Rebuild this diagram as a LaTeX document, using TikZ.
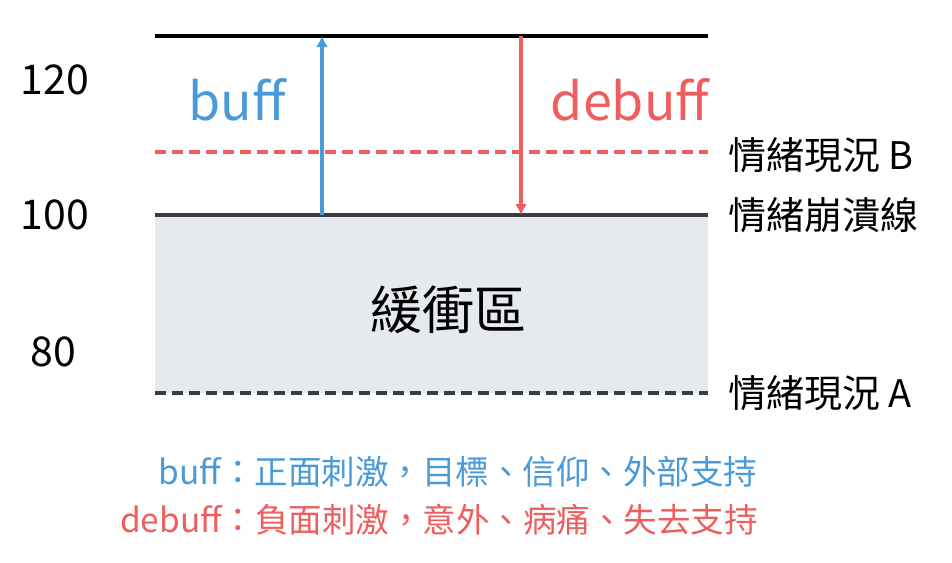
\documentclass[tikz,border=0pt]{standalone}
\usepackage{fontspec}
\usetikzlibrary{arrows.meta}
\setmainfont{Noto Sans CJK TC}
\definecolor{bl}{HTML}{4A9AD8}
\definecolor{rd}{HTML}{EE5E5E}
\definecolor{dk}{HTML}{3A3D40}
\definecolor{bz}{HTML}{E6EAEE}
\begin{document}
\begin{tikzpicture}[x=1pt,y=-1pt,
  lab/.style={anchor=west,inner sep=0pt,font=\fontsize{38}{38}\selectfont},
  num/.style={inner sep=0pt,font=\fontsize{41}{41}\selectfont},
  big/.style={inner sep=0pt,font=\fontsize{52}{52}\selectfont},
  foot/.style={inner sep=0pt,font=\fontsize{33.5}{33.5}\selectfont}]
\useasboundingbox (0,0) rectangle (952,562);
\fill[bz] (155,215) rectangle (708,393);
\coordinate (tl) at (155,36); \coordinate (tr) at (708,36);
\draw[line width=3.5pt] (tl) -- (tr);
\coordinate (bl1) at (155,152); \coordinate (br1) at (708,152);
\draw[rd,line width=3.5pt,dash pattern=on 11pt off 6pt] (bl1) -- (br1);
\coordinate (ml) at (155,215); \coordinate (mr) at (708,215);
\draw[dk,line width=3.5pt] (ml) -- (mr);
\coordinate (al) at (155,393); \coordinate (ar) at (708,393);
\draw[dk,line width=3.5pt,dash pattern=on 11pt off 6pt] (al) -- (ar);
\coordinate (b0) at (322,215); \coordinate (b1) at (322,36);
\draw[bl,line width=4pt,-{Latex[length=11pt,width=12pt]}] (b0) -- (b1);
\coordinate (d0) at (521,36); \coordinate (d1) at (521,215);
\draw[rd,line width=4pt,-{Latex[length=11pt,width=12pt]}] (d0) -- (d1);
\node[big,text=bl] (buff) at (237,100) {buff};
\node[big,text=rd] (debuff) at (630,100) {debuff};
\node[lab] (lb) at (728,155) {情緒現況 B};
\node[lab] (lc) at (728,215) {情緒崩潰線};
\node[lab] (la) at (728,393) {情緒現況 A};
\node[num] (n120) at (55,80) {120};
\node[num] (n100) at (55,215) {100};
\node[num] (n80) at (53,352) {80};
\node[inner sep=0pt,font=\fontsize{52}{52}\selectfont] (buf) at (448,310) {緩衝區};
\node[foot,text=bl] (f1) at (458,472) {buff：正面刺激，目標、信仰、外部支持};
\node[foot,text=rd] (f2) at (439,520) {debuff：負面刺激，意外、病痛、失去支持};
\end{tikzpicture}
\end{document}
